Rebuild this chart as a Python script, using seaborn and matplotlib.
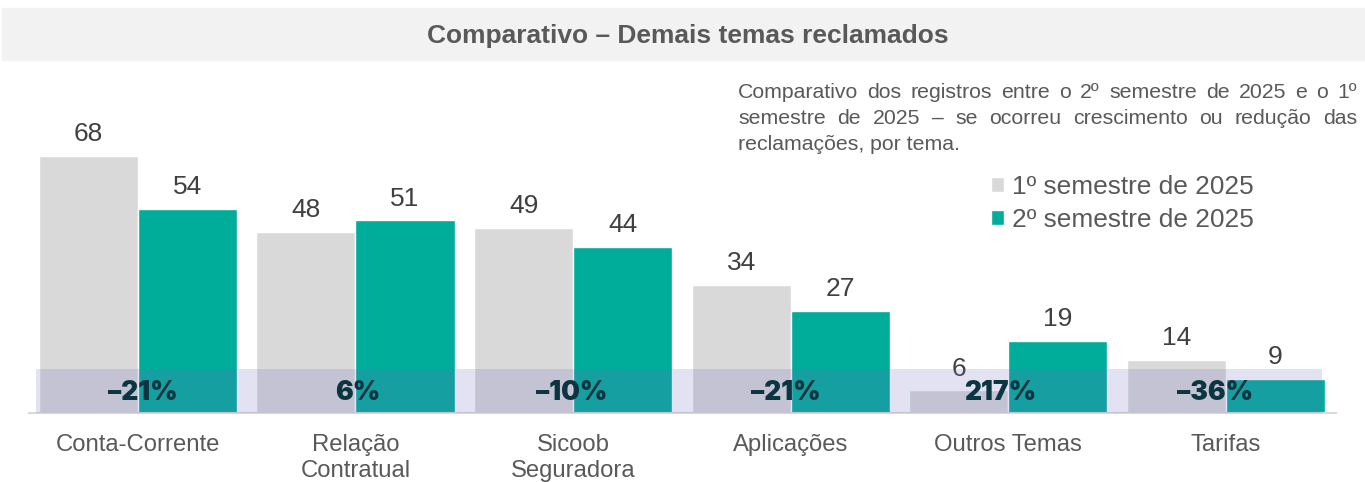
import numpy as np
import pandas as pd
import matplotlib
matplotlib.use("Agg")
import matplotlib.pyplot as plt
from matplotlib.patches import Rectangle
import seaborn as sns

# ── Data ─────────────────────────────────────────────────────────────────────
categories = ["Conta-Corrente", "Relação\nContratual", "Sicoob\nSeguradora",
              "Aplicações", "Outros Temas", "Tarifas"]
sem1 = [68, 48, 49, 34, 6, 14]
sem2 = [54, 51, 44, 27, 19, 9]
series = ["1º semestre de 2025", "2º semestre de 2025"]

title = "Comparativo – Demais temas reclamados"
subtitle_lines = [
    "Comparativo dos registros entre o 2º semestre de 2025 e o 1º",
    "semestre de 2025 – se ocorreu crescimento ou redução das",
    "reclamações, por tema.",
]

GRAY = "#d9d9d9"
TEAL = "#00ac9a"
TXT = "#595959"

df = pd.DataFrame({
    "tema": categories * 2,
    "valor": sem1 + sem2,
    "semestre": [series[0]] * len(categories) + [series[1]] * len(categories),
})

sns.set_style("white")
plt.rcParams["font.family"] = ["Liberation Sans", "DejaVu Sans"]

fig = plt.figure(figsize=(13.65, 4.82), dpi=100)
W, H = 1365, 482

# title band
fig.patches.append(Rectangle((2 / W, 1 - 60 / H), 1 - 2 / W, 52 / H,
                             transform=fig.transFigure, color="#f2f2f2", zorder=0))
fig.text(0.504, 1 - 36 / H, title, ha="center", va="center",
         fontsize=19, fontweight="bold", color=TXT)

ax = fig.add_axes([29 / W, 1 - 413 / H, 1307 / W, 80 * 3.779 / H])
ax.patch.set_alpha(0)
sns.barplot(data=df, x="tema", y="valor", hue="semestre", order=categories,
            hue_order=series, palette=[GRAY, TEAL], width=0.91, gap=0,
            saturation=1, ax=ax)

for cont in ax.containers:
    ax.bar_label(cont, padding=7, fontsize=19, color="#404040")

ax.set_xlim(-0.5, 5.505)
ax.set_ylim(0, 80)
ax.set_xlabel("")
ax.set_ylabel("")
ax.set_yticks([])
ax.tick_params(axis="x", length=0, pad=15, labelsize=17.2, labelcolor=TXT)
for lbl in ax.get_xticklabels():
    lbl.set_linespacing(1.25)
for s in ["top", "right", "left"]:
    ax.spines[s].set_visible(False)
ax.spines["bottom"].set_color(GRAY)
ax.spines["bottom"].set_linewidth(1.5)

# variation boxes with percent labels
box_step = 0.985
box_w = 0.985
for i, (a, b) in enumerate(zip(sem1, sem2)):
    pct = round((b - a) / a * 100)
    txt = f"{pct}%".replace("-", "–")
    x0 = -0.469 + i * box_step
    ax.add_patch(Rectangle((x0, 0), box_w, 11.6, facecolor="#6e6ebe",
                           alpha=0.2, edgecolor="none", zorder=5))
    ax.text(x0 + box_w / 2, 5.2, txt, ha="center", va="center", fontsize=19,
            fontweight=900, family=["Inter", "Lato", "DejaVu Sans"], color="#0b3540",
            zorder=6)

# legend
handles, labels = ax.get_legend_handles_labels()
ax.legend(handles, labels, loc="upper left", bbox_to_anchor=(978 / W, 1 - 162 / H),
          bbox_transform=fig.transFigure, frameon=False, fontsize=18.9,
          labelcolor=TXT, handlelength=0.5, handleheight=0.5,
          handletextpad=0.3, labelspacing=0.33, borderpad=0)

# justified subtitle
fig.canvas.draw()
r = fig.canvas.get_renderer()
x_left, x_right = 738, 1357
for k, line in enumerate(subtitle_lines):
    y = 1 - (93 + k * 25.5) / H
    words = line.split(" ")
    if k == len(subtitle_lines) - 1:
        fig.text(x_left / W, y, line, ha="left", va="center", fontsize=15.3, color=TXT)
        continue
    objs = [fig.text(0, y, w_, ha="left", va="center", fontsize=15.3, color=TXT)
            for w_ in words]
    widths = [t.get_window_extent(r).width for t in objs]
    gap = (x_right - x_left - sum(widths)) / (len(words) - 1)
    x = x_left
    for t, wd in zip(objs, widths):
        t.set_x(x / W)
        x += wd + gap

fig.savefig("out.png", dpi=100)
